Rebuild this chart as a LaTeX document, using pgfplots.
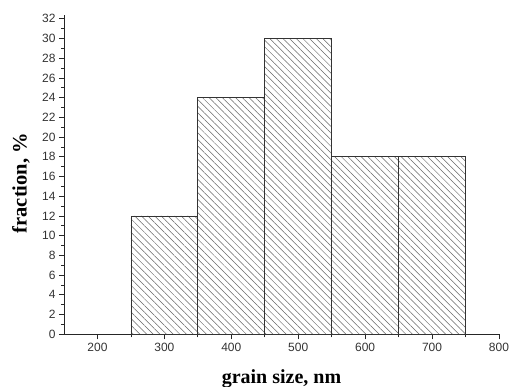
\documentclass[border=0pt]{standalone}
\usepackage{fontspec}
\setmainfont{Liberation Serif}
\newfontfamily\arial{Liberation Sans}
\usepackage{pgfplots}
\pgfplotsset{compat=1.18}
\usetikzlibrary{patterns.meta}
\begin{document}
\begin{tikzpicture}
\path[use as bounding box] (-64pt,-52.7pt) rectangle (445pt,334.3pt);
\begin{axis}[
 at={(0,0)}, anchor=south west,
 scale only axis, width=435pt, height=319pt,
 xmin=150, xmax=800, ymin=0, ymax=32.35,
 axis x line*=bottom, axis y line*=left,
 axis line style={-, line width=0.9pt, color=black!85},
 xtick={200,300,...,800}, minor xtick={250,350,...,750},
 ytick={0,2,...,32}, minor ytick={1,3,...,31},
 tick align=outside,
 major tick length=5pt, minor tick length=3pt,
 tick style={line width=0.8pt, black!85},
 ticklabel style={font=\arial\fontsize{12}{14}\selectfont, text=black!80},
 /pgf/number format/assume math mode=true,
 xlabel={\bfseries grain size, nm}, ylabel={\bfseries fraction, \%},
 label style={font=\fontsize{20}{22}\selectfont},
 xlabel style={at={(axis description cs:0.5,-0.138)}, anchor=center},
 ylabel style={at={(axis description cs:-0.099,0.474)}, anchor=center, font=\fontsize{20.5}{22}\selectfont},
]
\addplot[ybar interval, draw=black!80, line width=0.7pt, pattern={Lines[angle=-45,distance=4.7pt,line width=0.5pt]}, pattern color=black!60] coordinates {(250,12)(350,24)(450,30)(550,18)(650,18)(750,18)};
\end{axis}
\end{tikzpicture}
\end{document}
